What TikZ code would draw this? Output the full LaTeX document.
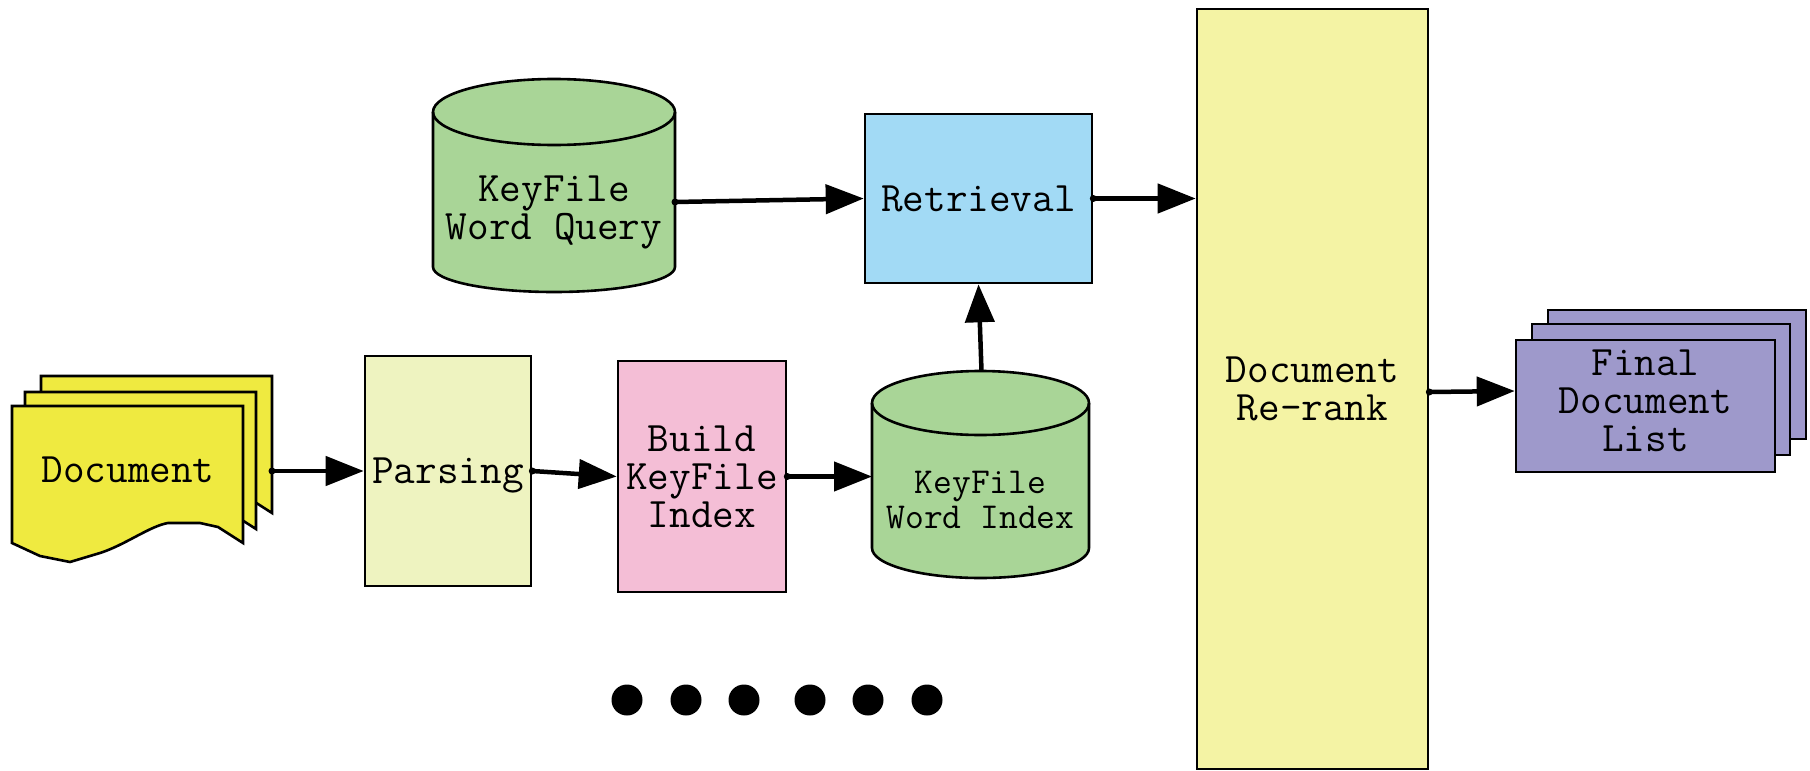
\documentclass[tikz,border=0pt]{standalone}
\usepackage{fontspec}
\usetikzlibrary{arrows.meta}

\definecolor{docyellow}{RGB}{239,234,64}
\definecolor{parsefill}{RGB}{238,243,192}
\definecolor{buildfill}{RGB}{244,190,214}
\definecolor{dbgreen}{RGB}{169,213,151}
\definecolor{retrblue}{RGB}{162,218,245}
\definecolor{rerankfill}{RGB}{244,243,164}
\definecolor{finalfill}{RGB}{158,153,203}

\newcommand\lblfont{\fontsize{42}{38}\selectfont\ttfamily}
\newcommand\smallfont{\fontsize{36.5}{35}\selectfont\ttfamily}

% one sheet of the wavy-bottomed document stack, shifted by #1
\newcommand\docsheet[1]{%
  \filldraw[sheet, shift={#1}]
    (12,-406) -- (243,-406) -- (243,-543) -- (218,-527) -- (200,-523) -- (168,-523)
    .. controls (150,-526) and (125,-545) .. (100,-553)
    -- (70,-562) -- (40,-556) -- (12,-543) -- cycle;}

% database cylinder: centre x, radius x, top y, top radius y, bottom y, bottom radius y
\newcommand\dbcylinder[6]{%
  \fill[dbgreen] (#1-#2,#3) -- (#1-#2,#5)
    arc[start angle=180, end angle=360, x radius=#2, y radius=#6]
    -- (#1+#2,#3)
    arc[start angle=0, end angle=180, x radius=#2, y radius=#4] -- cycle;
  \draw[outline] (#1-#2,#3) -- (#1-#2,#5)
    arc[start angle=180, end angle=360, x radius=#2, y radius=#6]
    -- (#1+#2,#3);
  \draw[outline] (#1,#3) ellipse[x radius=#2, y radius=#4];}

\begin{document}
\begin{tikzpicture}[x=1pt, y=1pt,
  outline/.style={draw=black, line width=2.6pt, line join=miter},
  sheet/.style={outline, fill=docyellow},
  box/.style={outline, inner sep=0pt, align=center, font=\lblfont},
  txt/.style={inner sep=0pt, align=center, font=\lblfont},
  flow/.style={line width=4.5pt, -{Triangle[length=38pt, width=29pt]}},
  tail/.style={fill=black}]

\useasboundingbox (0,0) rectangle (1810,-771);

% input document stack
\docsheet{(29,30)}
\docsheet{(13,14)}
\docsheet{(0,0)}
\node[txt] (doc) at (128,-470) {Document};
\coordinate (doc-out) at (272,-471);

% processing boxes
\node[box, fill=parsefill, minimum width=166pt, minimum height=230pt, text depth=0pt] (parse) at (448,-471) {Parsing};
\node[box, fill=buildfill, minimum width=168pt, minimum height=231pt] (build) at (702,-476.5) {Build\\KeyFile\\Index};

% query database
\dbcylinder{554}{121}{-112}{33}{-267}{25}
\node[txt] (wq) at (554,-212) {KeyFile\\Word Query};
\coordinate (wq-out) at (675,-202);

% index database
\dbcylinder{980.5}{108.5}{-403}{32}{-548}{30}
\node[txt, font=\smallfont] (kwi) at (980.5,-500) {KeyFile\\Word Index};
\coordinate (kwi-in) at (872,-476.5);
\coordinate (kwi-top) at (981.5,-371);

\node[box, fill=retrblue, minimum width=227pt, minimum height=169pt] (retr) at (978.5,-198.5) {Retrieval};
\node[box, fill=rerankfill, minimum width=231pt, minimum height=760pt] (rerank) at (1312.5,-389) {Document\\Re-rank};

% output document list stack
\filldraw[outline, fill=finalfill] (1548,-310) rectangle (1806,-439);
\filldraw[outline, fill=finalfill] (1532,-324) rectangle (1790,-455);
\node[box, fill=finalfill, minimum width=259pt, minimum height=132pt] (final) at (1645.5,-406) {};
\node[txt] (final-text) at (1645.5,-401) {Final\\Document\\List};

% connectors
\draw[flow] (doc-out) -- (parse.west);
\draw[flow] (parse.east) -- (build.west);
\draw[flow] (build.east) -- (kwi-in);
\draw[flow] (kwi-top) -- (retr.south);
\draw[flow] (wq-out) -- (retr.west);
\draw[flow] (retr.east) -- (retr.east -| rerank.west);
\draw[flow] ([yshift=-3pt]rerank.east) -- ([yshift=-2pt]rerank.east -| final.west);

% small dots where the connectors leave their shapes
\foreach \p in {doc-out, parse.east, build.east, wq-out, retr.east}
  \fill[tail] (\p) circle[radius=3.5];
\fill[tail] ([yshift=-3pt]rerank.east) circle[radius=3.5];

% ellipsis dots
\foreach \x in {627,686,744,810,868,927}
  \fill (\x,-700) circle[radius=15.5];
\end{tikzpicture}
\end{document}
